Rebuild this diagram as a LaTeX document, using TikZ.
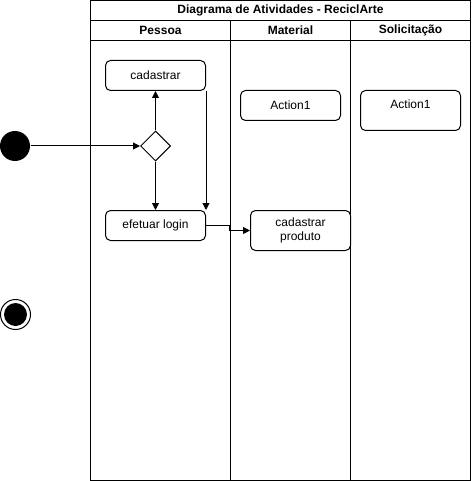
\documentclass[tikz,border=0pt]{standalone}
\usepackage{fontspec}
\setmainfont{Liberation Sans}
\usetikzlibrary{arrows.meta, shapes.geometric, positioning}

\tikzset{
  act/.style={draw, rounded corners=5pt, minimum width=100pt, minimum height=30pt, inner sep=0pt, align=center},
  lane/.style={font=\fontsize{12}{14}\selectfont\bfseries},
  arr/.style={-{Stealth[length=7pt,width=7pt,inset=0pt]}}
}

\begin{document}
\begin{tikzpicture}[x=1pt, y=-1pt, line width=1pt, font=\fontsize{12}{14}\selectfont]
\useasboundingbox (0,0) rectangle (471,481);

% pools and lanes
\draw (90.5,0.5) rectangle (470.5,480.5);
\draw (90.5,20.5) -- (470.5,20.5);
\draw (90.5,40.5) -- (470.5,40.5);
\draw (230.5,20.5) -- (230.5,480.5);
\draw (350.5,20.5) -- (350.5,480.5);
\node[lane] (titulo) at (280.5,10.5) {Diagrama de Atividades - ReciclArte};
\node[lane] (pessoa) at (160.5,30.5) {Pessoa};
\node[lane] (material) at (290.5,30.5) {Material};
\node[lane] (solic) at (410.5,30.5) {Solicitação};

% nodes
\node[circle, fill, minimum size=30pt, inner sep=0pt] (inicio) at (15,146) {};
\node[circle, draw, minimum size=30pt, inner sep=0pt] (fim) at (15.5,314.5) {};
\fill (fim) circle (11.5);
\node[diamond, draw, minimum width=30pt, minimum height=30pt, inner sep=0pt] (dec) at (155.5,146) {};
\node[act] (cad) at (155.5,75.5) {cadastrar};
\node[act] (login) at (155.5,225.5) {efetuar login};
\node[act, minimum height=40pt] (prod) at (300.5,230.5) {cadastrar\\produto};
\node[act] (act1) at (290.5,105.5) {Action1};
\node[act, minimum height=40pt, label={[anchor=north, yshift=-6pt]north:Action1}] (act2) at (410.5,110.5) {};

% edges
\draw[arr] (inicio) -- (dec);
\draw[arr] (dec) -- (cad);
\draw[arr] (dec) -- (login);
\draw[arr] (cad.south east) -- (login.north east);
\draw[arr] (login.east) -- ++(23,0) |- (prod.west);

\end{tikzpicture}
\end{document}
